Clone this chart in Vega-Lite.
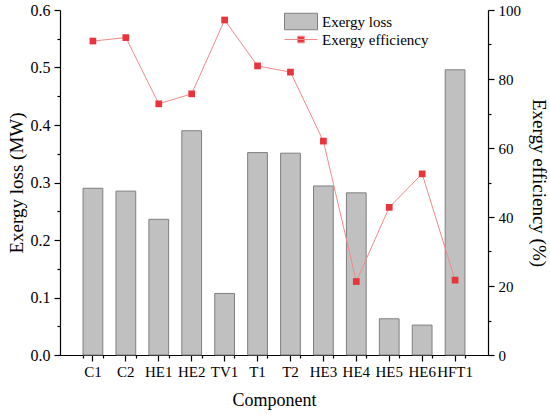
{
  "$schema": "https://vega.github.io/schema/vega-lite/v6.json",
  "autosize": {"type": "none"},
  "width": 428,
  "height": 345,
  "padding": {"left": 60, "top": 10, "right": 62, "bottom": 61},
  "data": {
    "values": [
      {"component": "C1", "loss": 0.290, "eff": 91.0},
      {"component": "C2", "loss": 0.285, "eff": 92.0},
      {"component": "HE1", "loss": 0.236, "eff": 72.8},
      {"component": "HE2", "loss": 0.390, "eff": 75.7},
      {"component": "TV1", "loss": 0.107, "eff": 97.1},
      {"component": "T1", "loss": 0.352, "eff": 83.8},
      {"component": "T2", "loss": 0.351, "eff": 82.0},
      {"component": "HE3", "loss": 0.294, "eff": 62.0},
      {"component": "HE4", "loss": 0.282, "eff": 21.3},
      {"component": "HE5", "loss": 0.063, "eff": 42.8},
      {"component": "HE6", "loss": 0.052, "eff": 52.5},
      {"component": "HFT1", "loss": 0.496, "eff": 21.7}
    ]
  },
  "layer": [
    {
      "mark": {"type": "bar", "stroke": "#7f7f7f", "strokeWidth": 1},
      "encoding": {
        "x": {
          "field": "component",
          "type": "nominal",
          "sort": null,
          "scale": {"paddingInner": 0.4, "paddingOuter": 0.7},
          "axis": {
            "orient": "bottom",
            "title": "Component",
            "labelAngle": 0,
            "tickSize": 6,
            "labelPadding": 3,
            "titlePadding": 12,
            "titleFontSize": 18
          }
        },
        "y": {
          "field": "loss",
          "type": "quantitative",
          "scale": {"domain": [0, 0.6], "nice": false},
          "axis": {
            "orient": "left",
            "title": "Exergy loss (MW)",
            "values": [0, 0.1, 0.2, 0.3, 0.4, 0.5, 0.6],
            "format": ".1f",
            "tickSize": 6,
            "labelPadding": 4,
            "labelFontSize": 16,
            "titlePadding": 4,
            "titleFontSize": 19
          }
        },
        "fill": {
          "datum": "Exergy loss",
          "type": "nominal",
          "scale": {"range": ["#c0c0c0"]},
          "legend": {
            "orient": "none",
            "legendX": 224,
            "legendY": -5.5,
            "title": null,
            "symbolType": "M-1,-0.5H1V0.5H-1Z",
            "symbolSize": 1089,
            "symbolStrokeColor": "#7f7f7f",
            "symbolStrokeWidth": 1,
            "symbolOpacity": 1
          }
        }
      }
    },
    {
      "mark": {"type": "point", "opacity": 0},
      "encoding": {
        "x": {
          "field": "component",
          "type": "nominal",
          "sort": null,
          "axis": {
            "orient": "bottom",
            "title": null,
            "labels": false,
            "domain": false,
            "tickBand": "extent",
            "tickSize": 3
          }
        },
        "y": {
          "field": "loss",
          "type": "quantitative",
          "scale": {"domain": [0, 0.6], "nice": false},
          "axis": {
            "orient": "left",
            "title": null,
            "labels": false,
            "domain": false,
            "values": [0.05, 0.15, 0.25, 0.35, 0.45, 0.55],
            "tickSize": 3
          }
        }
      }
    },
    {
      "mark": {"type": "line", "strokeWidth": 1},
      "encoding": {
        "x": {"field": "component", "type": "nominal", "sort": null, "axis": null},
        "y": {
          "field": "eff",
          "type": "quantitative",
          "scale": {"domain": [0, 100], "nice": false},
          "axis": {
            "orient": "right",
            "title": "Exergy efficiency (%)",
            "values": [0, 20, 40, 60, 80, 100],
            "tickSize": 6,
            "labelPadding": 4,
            "titlePadding": 8,
            "titleFontSize": 19
          }
        },
        "stroke": {
          "datum": "Exergy efficiency",
          "type": "nominal",
          "scale": {"range": ["#f08a8a"]},
          "legend": {
            "orient": "none",
            "legendX": 224,
            "legendY": 12.5,
            "title": null,
            "symbolType": "M-1,0H1M-0.2,-0.2H0.2V0.2H-0.2Z",
            "symbolSize": 1089,
            "symbolStrokeWidth": 1,
            "symbolFillColor": "#e8343a",
            "encode": {
              "symbols": {
                "update": {
                  "fill": {"value": "#e8343a"},
                  "fillOpacity": {"value": 1}
                }
              }
            }
          }
        }
      }
    },
    {
      "mark": {"type": "point", "shape": "square", "filled": true, "size": 45, "opacity": 1, "color": "#e8343a"},
      "encoding": {
        "x": {"field": "component", "type": "nominal", "sort": null, "axis": null},
        "y": {
          "field": "eff",
          "type": "quantitative",
          "scale": {"domain": [0, 100], "nice": false},
          "axis": null
        }
      }
    },
    {
      "mark": {"type": "point", "opacity": 0},
      "encoding": {
        "y": {
          "field": "eff",
          "type": "quantitative",
          "scale": {"domain": [0, 100], "nice": false},
          "axis": {
            "orient": "right",
            "title": null,
            "labels": false,
            "domain": false,
            "values": [10, 30, 50, 70, 90],
            "tickSize": 3
          }
        }
      }
    }
  ],
  "resolve": {
    "scale": {"y": "independent"},
    "axis": {"x": "independent", "y": "independent"}
  },
  "config": {
    "view": {"stroke": null},
    "font": "Liberation Serif",
    "axis": {
      "grid": false,
      "domainColor": "#000000",
      "domainWidth": 1.2,
      "tickColor": "#000000",
      "tickWidth": 1.2,
      "labelFont": "Liberation Serif",
      "labelFontSize": 15,
      "labelColor": "#000000",
      "titleFont": "Liberation Serif",
      "titleFontWeight": "normal",
      "titleColor": "#000000"
    },
    "legend": {
      "labelFont": "Liberation Serif",
      "labelFontSize": 15,
      "labelColor": "#000000",
      "labelOffset": 4,
      "padding": 0
    }
  }
}
